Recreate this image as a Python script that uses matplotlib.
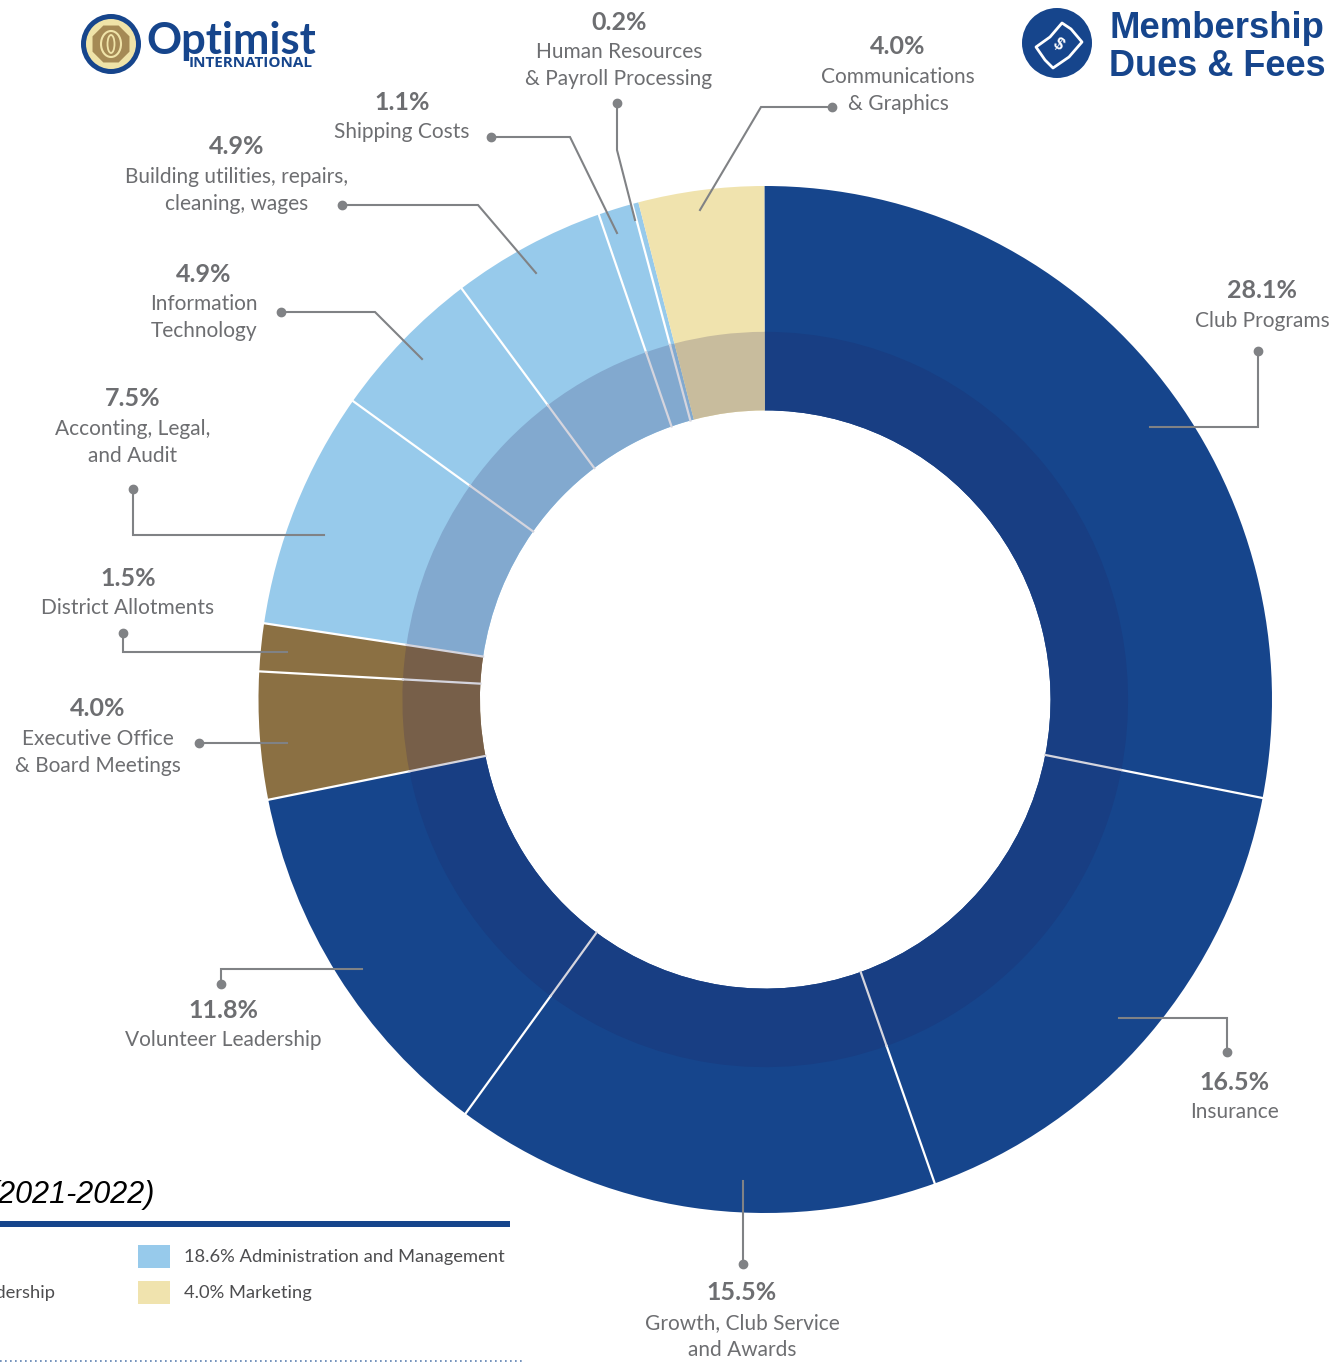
import numpy as np
import matplotlib
matplotlib.use("Agg")
import matplotlib.pyplot as plt
from matplotlib.patches import Circle, Polygon, Rectangle, RegularPolygon, Ellipse

# values clockwise from the top
names = ["Club Programs", "Insurance", "Growth, Club Service\nand Awards", "Volunteer Leadership",
         "Executive Office\n& Board Meetings", "District Allotments", "Acconting, Legal,\nand Audit",
         "Information\nTechnology", "Building utilities, repairs,\ncleaning, wages", "Shipping Costs",
         "Human Resources\n& Payroll Processing", "Communications\n& Graphics"]
values = [28.1, 16.5, 15.5, 11.8, 4.0, 1.5, 7.5, 4.9, 4.9, 1.1, 0.2, 4.0]
groups = ["blue", "blue", "blue", "blue", "tan", "tan", "sky", "sky", "sky", "sky", "sky", "yellow"]
legend_labels = ["18.6% Administration and Management", "4.0% Marketing"]

outer_colors = {"blue": "#16458C", "tan": "#8B7043", "sky": "#97CAEB", "yellow": "#F0E3AE"}
band_colors = {"blue": "#183E83", "tan": "#775F49", "sky": "#82A9CF", "yellow": "#C8BC9D"}

BLUE = "#16458C"
GREY = "#6D6E71"
LINE = "#808285"
W, H = 1334, 1369
# the ring in the picture is a little taller than wide
PIE_LEFT, PIE_RIGHT, PIE_TOP, PIE_BOTTOM = 258.5, 1272, 186, 1213
R_BAND, R_IN = 0.716, 0.563

# text anchor (centre of the percent line) and leader path, dot first
label_pos = [(1262, 290), (1234, 1081), (742, 1292), (223, 1009), (98, 708), (128, 577),
             (133, 398), (204, 273), (237, 146), (402, 101), (619, 21), (898, 46)]
leaders = [
    [(1258, 351), (1258, 427), (1150, 427)],
    [(1227, 1052), (1227, 1018), (1119, 1018)],
    [(743, 1264), (743, 1181)],
    [(221, 984), (221, 969), (362, 969)],
    [(199, 743), (287, 743)],
    [(123, 633), (123, 652), (287, 652)],
    [(133, 489), (133, 535), (324, 535)],
    [(281, 312), (375, 312), (422, 359)],
    [(342, 205), (478, 205), (536, 273)],
    [(491, 137), (570, 137), (617, 233)],
    [(617, 103), (617, 150), (635, 220)],
    [(832, 107), (761, 107), (700, 210)],
]

plt.rcParams["font.family"] = ["Lato", "DejaVu Sans"]
fig = plt.figure(figsize=(13.34, 13.69), dpi=100)

pie_ax = fig.add_axes([PIE_LEFT / W, 1 - PIE_BOTTOM / H, (PIE_RIGHT - PIE_LEFT) / W, (PIE_BOTTOM - PIE_TOP) / H])
START = 90.1
pie_ax.pie(values, colors=[outer_colors[g] for g in groups], radius=1, startangle=START, counterclock=False,
           wedgeprops=dict(width=1 - R_IN, linewidth=0))
pie_ax.pie(values, colors=[band_colors[g] for g in groups], radius=R_BAND, startangle=START, counterclock=False,
           wedgeprops=dict(width=R_BAND - R_IN, linewidth=0))

# separators, none next to the yellow slice
edges = np.cumsum(values) / np.sum(values) * 2 * np.pi + np.radians(90 - START)
for a in edges[:-2]:
    pie_ax.plot([R_BAND * np.sin(a), np.sin(a)], [R_BAND * np.cos(a), np.cos(a)], color="white", lw=1.6)
    pie_ax.plot([R_IN * np.sin(a), R_BAND * np.sin(a)], [R_IN * np.cos(a), R_BAND * np.cos(a)],
                color="#D5D5DE", lw=1.6)
pie_ax.set_aspect("auto")
pie_ax.set_xlim(-1, 1)
pie_ax.set_ylim(-1, 1)
pie_ax.axis("off")

# everything else sits on a full figure overlay in image pixels
ax = fig.add_axes([0, 0, 1, 1])
ax.set_xlim(0, W)
ax.set_ylim(H, 0)
ax.axis("off")

for path in leaders:
    xs = [p[0] for p in path]
    ys = [p[1] for p in path]
    ax.plot(xs, ys, color=LINE, lw=1.5, zorder=4, solid_joinstyle="miter")
    ax.plot(xs[0], ys[0], "o", color=LINE, ms=6, zorder=5)

for name, val, pos in zip(names, values, label_pos):
    ax.text(pos[0], pos[1] + 1, f"{val}%", color=GREY, fontsize=18, fontweight="bold", ha="center", va="center")
    ax.text(pos[0], pos[1] + 21, name, color=GREY, fontsize=15, ha="center", va="top", linespacing=1.42)

# bottom legend, cut off by the left edge
ax.text(155, 1195, "(2021-2022)", family="Liberation Sans", style="italic", fontsize=22,
        color="black", ha="right", va="center")
ax.add_patch(Rectangle((0, 1221), 510, 6, color=BLUE, lw=0))
ax.add_patch(Rectangle((138, 1245), 32, 23, color=outer_colors["sky"], lw=0))
ax.add_patch(Rectangle((138, 1281), 32, 23, color=outer_colors["yellow"], lw=0))
ax.text(184, 1257, legend_labels[0], color="#4D4D4F", fontsize=13.2, va="center")
ax.text(184, 1293, legend_labels[1], color="#4D4D4F", fontsize=13.2, va="center")
ax.text(55, 1293, "Leadership", color="#4D4D4F", fontsize=13.2, va="center", ha="right")
ax.plot([0, 522], [1361, 1361], color="#5B7FB0", lw=1.2, ls=(0, (1, 2)))

# Optimist logo
ax.add_patch(Circle((111, 44), 30, color=BLUE, lw=0))
ax.add_patch(Circle((111, 44), 25, color="#EFE3A8", lw=0))
ax.add_patch(RegularPolygon((111, 44), 8, radius=20, orientation=np.pi / 8, color="#A58A55", lw=0))
ax.add_patch(Ellipse((111, 44), 20, 26, fc="none", ec="#EFE3A8", lw=1.5))
ax.add_patch(Ellipse((111, 44), 7, 18, fc="none", ec="#EFE3A8", lw=1.3))
ax.text(146, 41, "Optimist", family="Lato", fontweight="bold", fontsize=31.3, color=BLUE, va="center")
ax.text(313, 63, "INTERNATIONAL", family="Open Sans", fontweight="bold", fontsize=11, color=BLUE,
        va="center", ha="right")

# Membership badge
ax.add_patch(Circle((1057, 43), 35, color=BLUE, lw=0))
ax.add_patch(Polygon([(1062, 23), (1071, 29), (1082, 42), (1069, 57), (1053, 68), (1045, 60), (1036, 47), (1050, 37)],
                     closed=True, fc="none", ec="white", lw=2, joinstyle="round"))
ax.text(1058, 44, "$", color="white", fontsize=12, fontweight="bold", rotation=-35,
        ha="center", va="center", family="Liberation Sans")
ax.text(1109, 28, "Membership", family="Liberation Sans", fontweight="bold", fontsize=26.3, color=BLUE, va="center")
ax.text(1109, 67, "Dues & Fees", family="Liberation Sans", fontweight="bold", fontsize=26, color=BLUE, va="center")

fig.savefig("out.png", dpi=100)
